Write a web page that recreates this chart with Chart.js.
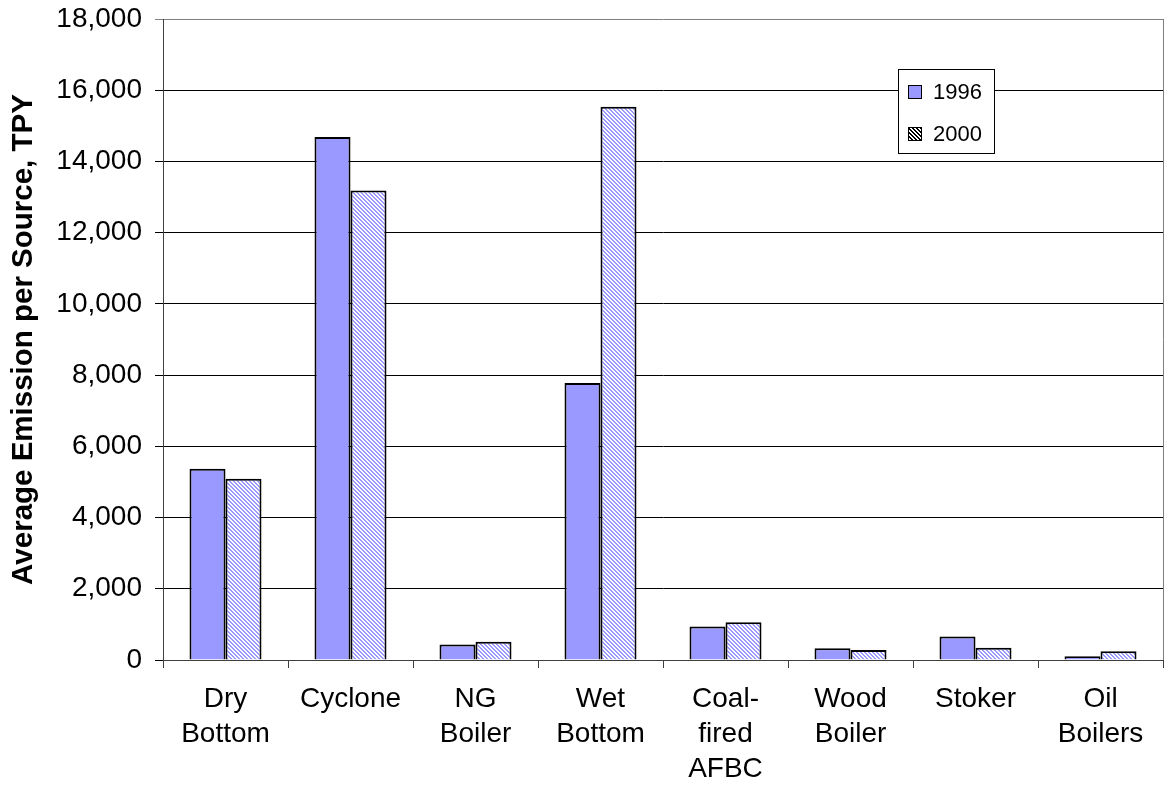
<!DOCTYPE html>
<html>
<head>
<meta charset="utf-8">
<script src="https://cdn.jsdelivr.net/npm/chart.js@4.4.1/dist/chart.umd.min.js"></script>
<style>
  html, body { margin: 0; padding: 0; background: #fff; }
  #wrap { width: 1165px; height: 786px; }
</style>
</head>
<body>
<div id="wrap"><canvas id="chart" width="1165" height="786"></canvas></div>
<script>
// Chart data
const categories = [
  ['Dry', 'Bottom'], 'Cyclone', ['NG', 'Boiler'], ['Wet', 'Bottom'],
  ['Coal-', 'fired', 'AFBC'], ['Wood', 'Boiler'], 'Stoker', ['Oil', 'Boilers']
];
const seriesNames = ['1996', '2000'];
const values1996 = [5374, 14683, 438, 7781, 941, 327, 662, 103];
const values2000 = [5093, 13183, 511, 15534, 1061, 279, 344, 243];
const yTicks = [0, 2000, 4000, 6000, 8000, 10000, 12000, 14000, 16000, 18000];

const FONT = "'Liberation Sans', Arial, sans-serif";
const BLUE = '#9999FF';

// diagonal hatch (top-left to bottom-right)
function makeHatch(fg, bg) {
  const c = document.createElement('canvas');
  c.width = 4; c.height = 4;
  const g = c.getContext('2d');
  g.fillStyle = bg;
  g.fillRect(0, 0, 4, 4);
  g.fillStyle = fg;
  for (let y = 0; y < 4; y++) {
    for (let x = 0; x < 4; x++) {
      const d = ((x - y) % 4 + 4) % 4;
      if (d === 0 || d === 1) g.fillRect(x, y, 1, 1);
    }
  }
  return document.getElementById('chart').getContext('2d').createPattern(c, 'repeat');
}

const hatchBlue = makeHatch(BLUE, '#ffffff');
const hatchBlack = makeHatch('#000000', '#ffffff');

// plot frame on the right
const framePlugin = {
  id: 'frame',
  beforeDatasetsDraw(chart) {
    const { ctx, chartArea: a } = chart;
    ctx.save();
    ctx.strokeStyle = '#808080';
    ctx.lineWidth = 1;
    ctx.beginPath();
    ctx.moveTo(a.right + 0.5, a.top);
    ctx.lineTo(a.right + 0.5, a.bottom);
    ctx.stroke();
    ctx.restore();
  }
};

// boxed legend inside the plot
const legendPlugin = {
  id: 'boxLegend',
  afterDraw(chart) {
    const ctx = chart.ctx;
    const x = 898, y = 69, w = 96, h = 84;
    ctx.save();
    ctx.fillStyle = '#fff';
    ctx.fillRect(x, y, w, h);
    ctx.strokeStyle = '#000';
    ctx.lineWidth = 1;
    ctx.strokeRect(x + 0.5, y + 0.5, w, h);
    const swatches = [BLUE, hatchBlack];
    const rows = [y + 23, y + 65];
    ctx.font = '22px ' + FONT;
    ctx.textBaseline = 'middle';
    seriesNames.forEach((name, i) => {
      ctx.fillStyle = swatches[i];
      ctx.fillRect(x + 10, rows[i] - 7, 14, 14);
      ctx.strokeStyle = '#000';
      ctx.strokeRect(x + 10.5, rows[i] - 6.5, 13, 13);
      ctx.fillStyle = '#000';
      ctx.fillText(name, x + 35, rows[i] + 1);
    });
    ctx.restore();
  }
};

new Chart(document.getElementById('chart'), {
  type: 'bar',
  data: {
    labels: categories,
    datasets: [
      {
        label: seriesNames[0],
        data: values1996,
        backgroundColor: BLUE,
        borderColor: '#000',
        borderWidth: 2,
        categoryPercentage: 0.576,
        barPercentage: 1
      },
      {
        label: seriesNames[1],
        data: values2000,
        backgroundColor: hatchBlue,
        borderColor: '#000',
        borderWidth: 2,
        categoryPercentage: 0.576,
        barPercentage: 1
      }
    ]
  },
  options: {
    responsive: false,
    animation: false,
    layout: { padding: { top: 19, right: 2, left: 0, bottom: 0 } },
    plugins: {
      legend: { display: false },
      tooltip: { enabled: false }
    },
    scales: {
      x: {
        grid: {
          offset: true,
          drawOnChartArea: false,
          tickLength: 8,
          color: '#404040'
        },
        border: { color: '#404040', width: 1 },
        ticks: {
          color: '#000',
          padding: 14,
          maxRotation: 0,
          autoSkip: false,
          font: { family: FONT, size: 28, lineHeight: 1.24 }
        },
        afterFit(scale) { scale.height = 126; }
      },
      y: {
        min: 0,
        max: 18000,
        afterBuildTicks(scale) {
          scale.ticks = yTicks.map(v => ({ value: v }));
        },
        grid: {
          tickLength: 8,
          color: ctx => (ctx.tick && ctx.tick.value === 18000 ? '#808080' : '#000'),
          lineWidth: 1
        },
        border: { color: '#404040', width: 1 },
        ticks: {
          color: '#000',
          padding: 13,
          font: { family: FONT, size: 28 },
          callback: v => v.toLocaleString('en-US')
        },
        title: {
          display: true,
          text: 'Average Emission per Source, TPY',
          color: '#000',
          padding: { top: 6, bottom: 0 },
          font: { family: FONT, size: 29.5, weight: 'bold' }
        },
        afterFit(scale) {
          scale.width = 163;
          scale.paddingTop = 0;
          scale.paddingBottom = 0;
        }
      }
    }
  },
  plugins: [framePlugin, legendPlugin]
});
</script>
</body>
</html>
